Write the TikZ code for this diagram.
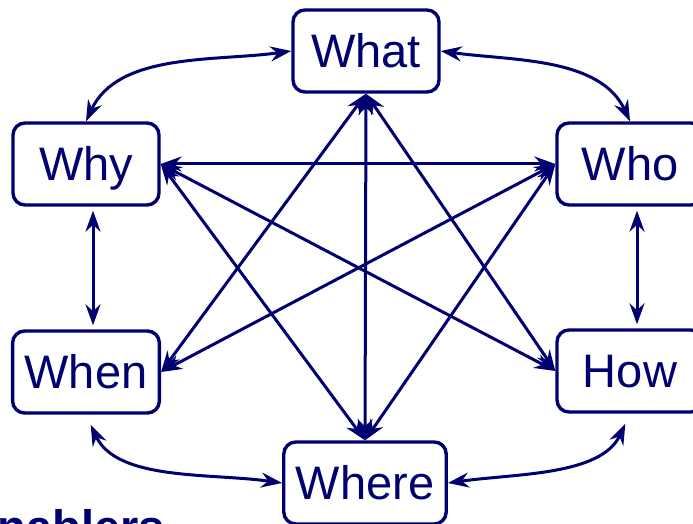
\documentclass[tikz,border=0pt]{standalone}
\usepackage{fontspec}
\setmainfont{Liberation Sans}
\usetikzlibrary{arrows.meta}
\definecolor{navyink}{RGB}{0,0,112}
\begin{document}
\begin{tikzpicture}[x=1pt,y=1pt,
  qbox/.style={draw=navyink, line width=3.4pt, rounded corners=12pt, text=navyink,
    minimum width=146pt, minimum height=82pt, inner xsep=12pt,
    font=\fontsize{47}{56}\selectfont, text height=34pt, text depth=0pt},
  tip/.tip={Stealth[length=21pt,width=15pt,inset=7pt]},
  link/.style={draw=navyink, line width=3pt, tip-tip}
]
\useasboundingbox (0,0) rectangle (693,524);

% the six questions
\node[qbox] (what)  at (366,473) {What};
\node[qbox] (why)   at (86,360)  {Why};
\node[qbox] (who)   at (630,360) {Who};
\node[qbox] (when)  at (86,152)  {When};
\node[qbox] (how)   at (630,153) {How};
\node[qbox] (where) at (365,41)  {Where};

% title, mostly below the page edge
\node[anchor=base west, inner sep=0pt, text=navyink,
      font=\fontsize{47}{56}\selectfont\bfseries] (enablers) at (-34,-20) {Enablers};

% outer ring
\draw[link] (what.west) to[out=188,in=65,looseness=0.9] (why.north);
\draw[link] (what.east) to[out=-8,in=115,looseness=0.9] (who.north);
\draw[link, shorten <=4pt, shorten >=4pt] ([xshift=7pt]why.south) -- ([xshift=7pt]when.north);
\draw[link, shorten <=4pt, shorten >=4pt] ([xshift=7pt]who.south) -- ([xshift=7pt]how.north);
\draw[link, shorten >=11pt] (where.west) to[out=172,in=-65,looseness=0.9] (when.south);
\draw[link, shorten >=11pt] (where.east) to[out=8,in=-115,looseness=0.9] (how.south);

% inner star
\draw[link] (why.east) -- (who.west);
\draw[link] (why.east) -- (how.west);
\draw[link] (why.east) -- (where.north);
\draw[link] (what.south) -- (where.north);
\draw[link] (what.south) -- (when.east);
\draw[link] (what.south) -- (how.west);
\draw[link] (who.west) -- (when.east);
\draw[link] (who.west) -- (where.north);
\end{tikzpicture}
\end{document}
